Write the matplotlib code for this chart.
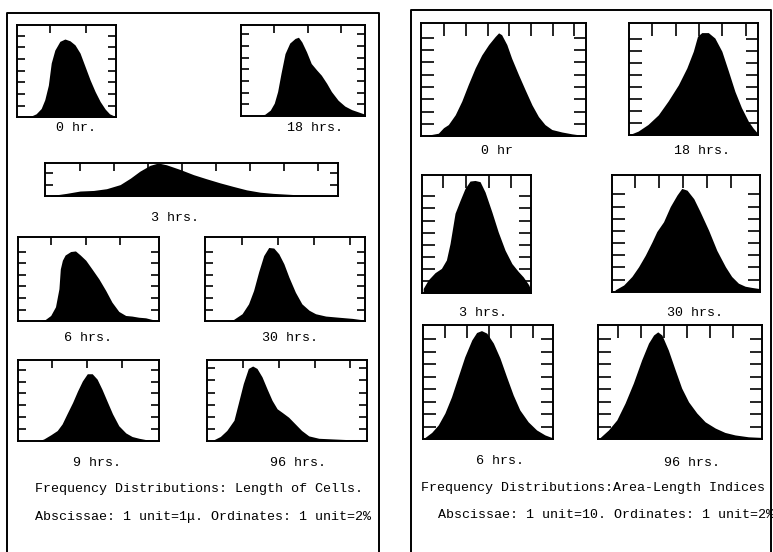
import matplotlib
matplotlib.use("Agg")
import matplotlib.pyplot as plt
from matplotlib.lines import Line2D

W, H = 773, 552

# ── Length of cells (x in μ, y in %) ─────────────────────────────
len_0h_x = [6.5, 7.2, 8.1, 8.8, 9.3, 9.8, 10.2, 10.7, 11.4, 12.1, 12.8, 13.5, 14.2,
            14.9, 15.6, 16.3, 17.0, 17.7, 18.3, 19.2]
len_0h_y = [0, 0.1, 0.6, 1.5, 3.0, 5.5, 9.3, 11.5, 13.0, 13.4, 13.1, 12.4, 11.0,
            8.7, 6.4, 4.4, 2.7, 1.4, 0.6, 0.1]

len_18h_x = [7.6, 8.6, 9.4, 10.0, 10.5, 11.0, 11.6, 12.3, 13.1, 13.6, 14.1, 14.8, 15.5,
             16.3, 17.0, 17.8, 18.5, 19.5, 20.5, 21.5, 22.5, 23.5]
len_18h_y = [0, 0.3, 1.0, 2.2, 4.2, 7.3, 10.7, 12.5, 13.3, 13.5, 12.7, 11.0, 9.0,
             7.9, 7.0, 5.6, 4.2, 2.7, 1.7, 1.1, 0.7, 0.3]

len_3h_x = [5.6, 8.0, 10.0, 12.0, 13.9, 15.9, 17.4, 18.8, 20.3, 21.5, 22.7, 24.7, 26.7,
            28.6, 30.6, 32.5, 34.5, 36.5, 38.4, 41.4, 44.3, 47.7]
len_3h_y = [0.1, 0.5, 0.9, 1.0, 1.3, 2.0, 3.1, 4.3, 5.3, 5.7, 5.4, 4.6, 3.7,
            3.0, 2.3, 1.7, 1.1, 0.7, 0.5, 0.3, 0.2, 0.1]

len_6h_x = [8.4, 9.1, 9.9, 10.6, 11.1, 11.3, 11.6, 12.0, 12.8, 13.5, 14.2, 15.0, 15.9,
            16.9, 17.9, 18.8, 19.8, 20.8, 21.7, 22.7, 23.7, 24.7, 25.8]
len_6h_y = [0, 0.3, 1.0, 2.5, 5.6, 9.0, 10.5, 11.4, 12.0, 12.1, 11.4, 10.5, 9.0,
            7.3, 5.3, 3.3, 1.7, 1.0, 0.9, 0.7, 0.6, 0.3, 0.1]

len_30h_x = [7.9, 8.8, 10.0, 10.9, 11.6, 12.3, 13.0, 13.7, 14.4, 15.1, 15.8, 16.5, 17.4,
             18.3, 19.3, 20.2, 21.6, 23.4, 25.3, 27.1]
len_30h_y = [0, 0.3, 1.3, 3.0, 5.3, 8.5, 11.3, 12.7, 12.6, 11.6, 9.9, 7.6, 5.0,
             3.0, 1.9, 1.3, 0.9, 0.7, 0.5, 0.2]

len_9h_x = [7.9, 8.8, 9.8, 10.7, 11.4, 12.1, 12.9, 13.6, 14.3, 15.0, 15.7, 16.4, 17.1,
            17.9, 18.6, 19.5, 20.5, 21.4, 22.4, 23.3, 24.3, 25.2]
len_9h_y = [0, 0.4, 1.1, 1.8, 2.9, 4.6, 6.5, 8.4, 10.1, 11.3, 11.3, 10.4, 8.7,
            6.5, 4.6, 2.6, 1.4, 0.8, 0.5, 0.3, 0.2, 0.1]

len_96h_x = [5.9, 6.9, 7.8, 8.8, 9.4, 10.1, 10.8, 11.4, 12.0, 12.7, 13.4, 14.1, 14.8,
             15.5, 16.4, 17.3, 18.2, 19.2, 20.6, 22.4, 24.3, 26.1, 27.3]
len_96h_y = [0.1, 0.7, 1.7, 3.4, 6.2, 9.5, 12.0, 12.4, 12.0, 10.6, 8.6, 6.7, 5.3,
             4.7, 3.9, 2.8, 1.7, 0.8, 0.4, 0.3, 0.2, 0.2, 0.1]

# ── Area-length indices (x in index units, y in %) ───────────────
ali_0h_x = [6.3, 8.6, 9.8, 10.9, 12.5, 14.0, 15.5, 17.1, 18.6, 20.2, 21.7, 22.5, 23.2,
            24.4, 25.5, 27.1, 28.6, 30.2, 31.7, 33.2, 34.8, 37.1, 39.4, 42.5]
ali_0h_y = [0.2, 0.5, 1.4, 1.9, 3.5, 5.7, 8.4, 11.1, 13.2, 14.9, 16.2, 16.8, 16.5,
            14.9, 12.7, 10.0, 7.6, 5.1, 3.2, 1.9, 1.1, 0.7, 0.4, 0.1]

ali_18h_x = [5.1, 7.0, 9.1, 11.3, 13.4, 15.6, 17.4, 18.8, 19.7, 20.6, 22.0, 23.4, 24.9,
             26.3, 27.7, 29.1, 30.6, 31.6, 32.7]
ali_18h_y = [0.1, 0.7, 1.8, 3.4, 5.7, 8.4, 11.2, 14.0, 16.5, 17.1, 17.1, 16.2, 14.0,
             10.7, 7.3, 4.6, 2.3, 1.2, 0.2]

ali_3h_x = [5.6, 6.7, 8.2, 9.6, 10.7, 11.5, 12.6, 13.7, 14.8, 15.9, 17.0, 18.1, 19.2,
            20.7, 22.1, 23.6, 25.1, 26.5, 27.6, 28.8, 29.3]
ali_3h_y = [0.8, 2.2, 3.4, 4.1, 5.5, 8.2, 13.2, 15.3, 17.3, 18.5, 18.6, 18.4, 16.7,
            13.4, 10.1, 7.1, 4.9, 3.6, 2.7, 1.4, 0.5]

ali_30h_x = [5.8, 7.6, 9.3, 10.7, 12.1, 13.5, 14.5, 15.9, 17.3, 18.7, 19.7, 20.8, 22.2,
             23.5, 25.3, 27.0, 28.8, 30.1, 31.5, 32.9, 34.3, 36.0]
ali_30h_y = [0.3, 1.1, 2.5, 4.1, 6.0, 8.2, 9.9, 11.5, 14.0, 15.9, 17.0, 16.7, 15.3,
             13.2, 10.1, 6.8, 4.1, 2.5, 1.4, 0.9, 0.7, 0.5]

ali_6h_x = [5.3, 7.0, 8.5, 10.0, 11.5, 13.0, 14.5, 16.1, 17.2, 18.3, 19.5, 21.0, 22.5,
            24.0, 25.5, 27.0, 28.9, 30.8, 32.7, 34.6]
ali_6h_y = [0.2, 1.1, 2.3, 4.2, 6.8, 10.0, 13.2, 15.9, 17.1, 17.4, 17.0, 15.4, 13.0,
            10.0, 7.1, 4.7, 2.8, 1.5, 0.7, 0.2]

ali_96h_x = [6.2, 8.0, 9.8, 11.6, 13.4, 15.2, 16.7, 17.8, 18.7, 19.6, 21.0, 22.5, 23.9,
             25.4, 27.2, 29.0, 31.2, 33.3, 35.5, 38.4, 41.3]
ali_96h_y = [0.3, 1.5, 3.1, 5.8, 9.0, 12.7, 15.4, 16.7, 17.2, 16.7, 14.3, 11.1, 8.2,
             6.0, 4.2, 2.8, 1.8, 1.1, 0.7, 0.4, 0.3]

# ── Layout: (x, y, label, box px, xlim, ylim, n x-ticks, n y-ticks, label px) ──
panels = [
    (len_0h_x, len_0h_y, "0 hr.", (16.7, 25, 116, 117.3), (5.4, 19.2), (0, 15.8), 2, 7, (76, 128)),
    (len_18h_x, len_18h_y, "18 hrs.", (241, 25, 365, 116), (5.05, 23.5), (0, 15.6), 3, 7, (315, 128)),
    (len_3h_x, len_3h_y, "3 hrs.", (45, 163, 337.7, 196.3), (4.85, 47.9), (0, 5.7), 8, 2, (175, 218)),
    (len_6h_x, len_6h_y, "6 hrs.", (18, 237, 158.7, 321.3), (5.15, 25.6), (0, 14.5), 3, 6, (88, 338)),
    (len_30h_x, len_30h_y, "30 hrs.", (205.3, 237, 365.3, 321.3), (4.9, 27.1), (0, 14.5), 4, 6, (290, 338)),
    (len_9h_x, len_9h_y, "9 hrs.", (18, 360, 158.7, 441.3), (5.1, 25.2), (0, 13.6), 3, 6, (97, 463)),
    (len_96h_x, len_96h_y, "96 hrs.", (207, 360, 367, 440.7), (5.05, 27.3), (0, 13.4), 4, 6, (298, 463)),
    (ali_0h_x, ali_0h_y, "0 hr", (421, 23, 585.7, 136.3), (4.6, 42.6), (0, 18.4), 7, 8, (497, 151)),
    (ali_18h_x, ali_18h_y, "18 hrs.", (629.3, 23, 758.3, 135.3), (5.1, 32.7), (0, 18.7), 5, 8, (702, 151)),
    (ali_3h_x, ali_3h_y, "3 hrs.", (422.3, 175, 531, 293.3), (5.4, 29.3), (0, 19.5), 4, 8, (483, 313)),
    (ali_30h_x, ali_30h_y, "30 hrs.", (611.7, 175, 760, 291.7), (5.1, 36.0), (0, 19.2), 5, 8, (695, 313)),
    (ali_6h_x, ali_6h_y, "6 hrs.", (423.3, 325, 553.3, 439.3), (5.1, 34.6), (0, 18.3), 5, 8, (500, 461)),
    (ali_96h_x, ali_96h_y, "96 hrs.", (597.7, 325, 761.7, 439.3), (5.65, 41.3), (0, 18.3), 6, 8, (692, 463)),
]

FONT = ["Liberation Mono", "DejaVu Sans Mono"]


def fx(px):
    return px / W


def fy(py):
    return 1 - py / H


fig = plt.figure(figsize=(W / 100, H / 100), dpi=100)
fig.patch.set_facecolor("white")

# outer frames (open at the bottom, cut by the page edge)
for x0, x1, ytop in [(7, 379, 13), (411, 771, 10)]:
    fig.add_artist(Line2D([fx(x0), fx(x0), fx(x1), fx(x1)],
                          [0, fy(ytop), fy(ytop), 0],
                          transform=fig.transFigure, color="black", lw=1.4))

for i, (xs, ys, label, box, xlim, ylim, nx, ny, lab) in enumerate(panels):
    x0, y0, x1, y1 = box
    ax = fig.add_axes([fx(x0), fy(y1), fx(x1 - x0), (y1 - y0) / H])
    ax.fill_between(xs, ys, 0, color="black", lw=0)
    ax.set_xlim(*xlim)
    ax.set_ylim(*ylim)
    ax.set_xticks([10 + 5 * k for k in range(nx)])
    ax.set_yticks([2 * (k + 1) for k in range(ny)])
    tl = 9.0 if i >= 7 else 6.0
    ax.tick_params(axis="x", bottom=False, top=True, direction="in",
                   length=tl, width=1.2, labelbottom=False, labeltop=False)
    ax.tick_params(axis="y", left=True, right=True, direction="in",
                   length=tl, width=1.2, labelleft=False, labelright=False)
    for s in ax.spines.values():
        s.set_linewidth(1.4)
    fig.text(fx(lab[0]), fy(lab[1]), label, ha="center", va="center",
             family=FONT, fontsize=9.6)

# captions
fig.text(fx(35), fy(489), "Frequency Distributions: Length of Cells.",
         ha="left", va="center", family=FONT, fontsize=9.6)
fig.text(fx(35), fy(517), "Abscissae: 1 unit=1\u03bc. Ordinates: 1 unit=2%",
         ha="left", va="center", family=FONT, fontsize=9.6)
fig.text(fx(421), fy(488), "Frequency Distributions:Area-Length Indices",
         ha="left", va="center", family=FONT, fontsize=9.6)
fig.text(fx(438), fy(515), "Abscissae: 1 unit=10. Ordinates: 1 unit=2%",
         ha="left", va="center", family=FONT, fontsize=9.6)

fig.savefig("out.png", dpi=100)
